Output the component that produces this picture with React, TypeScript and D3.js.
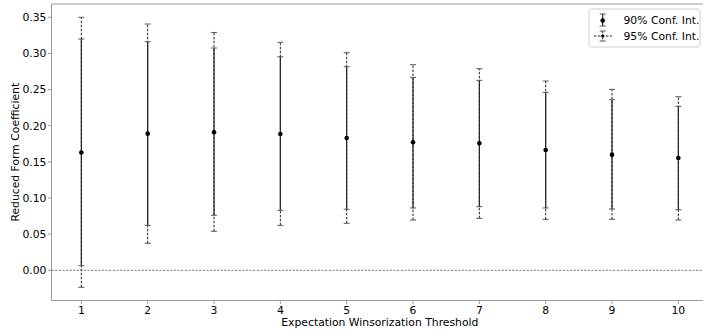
import React, { useRef, useEffect } from "react";
import * as d3 from "d3";

// values
const thresholds = [1, 2, 3, 4, 5, 6, 7, 8, 9, 10];
const estimates = [0.163, 0.189, 0.191, 0.1885, 0.183, 0.177, 0.1756, 0.1664, 0.16, 0.1553];
const ci90Low = [0.0064, 0.0622, 0.0761, 0.083, 0.0844, 0.0862, 0.088, 0.0862, 0.0848, 0.0838];
const ci90High = [0.32, 0.3162, 0.3075, 0.2954, 0.2816, 0.2669, 0.2628, 0.2462, 0.236, 0.2268];
const ci95Low = [-0.0235, 0.0373, 0.0539, 0.0622, 0.065, 0.0696, 0.0719, 0.0705, 0.0705, 0.0696];
const ci95High = [0.35, 0.3407, 0.329, 0.3154, 0.301, 0.2844, 0.2788, 0.2618, 0.2503, 0.2401];
const yTicks = [0, 0.05, 0.1, 0.15, 0.2, 0.25, 0.3, 0.35];
const legendLabels = ["90% Conf. Int.", "95% Conf. Int."];

const App = () => {
    const ref = useRef<SVGSVGElement>(null);

    useEffect(() => {
        const width = 703;
        const height = 332;
        const font = "DejaVu Sans";
        const fontSize = 10.8;
        const spine = "#9a9a9a";
        const capW = 3;

        const svg = d3.select(ref.current)
            .attr("width", width)
            .attr("height", height);
        svg.selectAll("*").remove();

        const xScale = d3.scaleLinear().domain([0.55, 10.45]).range([51.5, 708.2]);
        const yScale = d3.scaleLinear().domain([-0.0418, 0.3684]).range([300.5, 4]);

        const x0 = xScale.range()[0];
        const x1 = width;
        const yTop = yScale.range()[1];
        const yBot = yScale.range()[0];

        // zero reference line
        svg.append("line")
            .attr("x1", x0).attr("x2", x1)
            .attr("y1", yScale(0)).attr("y2", yScale(0))
            .attr("stroke", "#555").attr("stroke-width", 0.8)
            .attr("stroke-dasharray", "2.2,1.4");

        const rows = thresholds.map((t, i) => ({
            t, est: estimates[i],
            lo90: ci90Low[i], hi90: ci90High[i],
            lo95: ci95Low[i], hi95: ci95High[i],
        }));

        // 95% intervals (dashed)
        const g95 = svg.append("g").attr("stroke", "#222").attr("stroke-width", 1);
        g95.selectAll("line.bar")
            .data(rows).enter().append("line")
            .attr("x1", d => xScale(d.t)).attr("x2", d => xScale(d.t))
            .attr("y1", d => yScale(d.lo95)).attr("y2", d => yScale(d.hi95))
            .attr("stroke-dasharray", "2.5,1.5");
        [(d: any) => d.lo95, (d: any) => d.hi95].forEach(acc => {
            g95.selectAll(null)
                .data(rows).enter().append("line")
                .attr("x1", d => xScale(d.t) - capW).attr("x2", d => xScale(d.t) + capW)
                .attr("y1", d => yScale(acc(d))).attr("y2", d => yScale(acc(d)))
                .attr("stroke", "#555");
        });

        // 90% intervals (solid)
        const g90 = svg.append("g").attr("stroke", "#222").attr("stroke-width", 1.2);
        g90.selectAll("line.bar")
            .data(rows).enter().append("line")
            .attr("x1", d => xScale(d.t)).attr("x2", d => xScale(d.t))
            .attr("y1", d => yScale(d.lo90)).attr("y2", d => yScale(d.hi90));
        [(d: any) => d.lo90, (d: any) => d.hi90].forEach(acc => {
            g90.selectAll(null)
                .data(rows).enter().append("line")
                .attr("x1", d => xScale(d.t) - capW).attr("x2", d => xScale(d.t) + capW)
                .attr("y1", d => yScale(acc(d))).attr("y2", d => yScale(acc(d)))
                .attr("stroke", "#555").attr("stroke-width", 1);
        });

        // point estimates
        svg.append("g").selectAll("circle")
            .data(rows).enter().append("circle")
            .attr("cx", d => xScale(d.t)).attr("cy", d => yScale(d.est))
            .attr("r", 2.3).attr("fill", "#000");

        // spines
        svg.append("line").attr("x1", x0).attr("x2", x1).attr("y1", yTop).attr("y2", yTop)
            .attr("stroke", spine).attr("stroke-width", 1);
        svg.append("line").attr("x1", x0).attr("x2", x1).attr("y1", yBot).attr("y2", yBot)
            .attr("stroke", spine).attr("stroke-width", 1);
        svg.append("line").attr("x1", x0).attr("x2", x0).attr("y1", yTop).attr("y2", yBot)
            .attr("stroke", spine).attr("stroke-width", 1);

        // x axis ticks
        const xAxis = svg.append("g");
        xAxis.selectAll("line").data(thresholds).enter().append("line")
            .attr("x1", d => xScale(d)).attr("x2", d => xScale(d))
            .attr("y1", yBot).attr("y2", yBot + 3.5)
            .attr("stroke", spine);
        xAxis.selectAll("text").data(thresholds).enter().append("text")
            .attr("x", d => xScale(d)).attr("y", 313.5)
            .attr("text-anchor", "middle")
            .style("font-family", font).style("font-size", fontSize + "px")
            .attr("fill", "#000")
            .text(d => d);

        // y axis ticks
        const yAxis = svg.append("g");
        yAxis.selectAll("line").data(yTicks).enter().append("line")
            .attr("x1", x0 - 3.5).attr("x2", x0)
            .attr("y1", d => yScale(d)).attr("y2", d => yScale(d))
            .attr("stroke", spine);
        yAxis.selectAll("text").data(yTicks).enter().append("text")
            .attr("x", x0 - 5).attr("y", d => yScale(d))
            .attr("dy", "0.36em")
            .attr("text-anchor", "end")
            .style("font-family", font).style("font-size", fontSize + "px")
            .attr("fill", "#000")
            .text(d => d3.format(".2f")(d));

        // axis labels
        svg.append("text")
            .attr("x", (x0 + xScale.range()[1]) / 2).attr("y", 326)
            .attr("text-anchor", "middle")
            .style("font-family", font).style("font-size", fontSize + "px")
            .text("Expectation Winsorization Threshold");
        svg.append("text")
            .attr("transform", `translate(18.5, ${(yTop + yBot) / 2}) rotate(-90)`)
            .attr("text-anchor", "middle")
            .style("font-family", font).style("font-size", fontSize + "px")
            .text("Reduced Form Coefficient");

        // legend
        const legend = svg.append("g");
        legend.append("rect")
            .attr("x", 589).attr("y", 9).attr("width", 111).attr("height", 38)
            .attr("rx", 2.5)
            .attr("fill", "#fff").attr("fill-opacity", 0.8)
            .attr("stroke", "#d0d0d0").attr("stroke-width", 1);
        const hx = 602.7;
        // row 1: solid errorbar with marker
        legend.append("line").attr("x1", hx).attr("x2", hx).attr("y1", 14).attr("y2", 26)
            .attr("stroke", "#222").attr("stroke-width", 1.2);
        [14, 26].forEach(y => legend.append("line")
            .attr("x1", hx - capW).attr("x2", hx + capW).attr("y1", y).attr("y2", y)
            .attr("stroke", "#555"));
        legend.append("circle").attr("cx", hx).attr("cy", 20.5).attr("r", 2.3).attr("fill", "#000");
        // row 2: dashed errorbar with small marker
        legend.append("line").attr("x1", 594).attr("x2", 612).attr("y1", 36).attr("y2", 36)
            .attr("stroke", "#222").attr("stroke-width", 1).attr("stroke-dasharray", "2.5,1.5");
        legend.append("line").attr("x1", hx).attr("x2", hx).attr("y1", 31).attr("y2", 41)
            .attr("stroke", "#222").attr("stroke-width", 1).attr("stroke-dasharray", "2,1.2");
        [31, 41].forEach(y => legend.append("line")
            .attr("x1", hx - capW).attr("x2", hx + capW).attr("y1", y).attr("y2", y)
            .attr("stroke", "#555"));
        legend.append("circle").attr("cx", hx).attr("cy", 36).attr("r", 1.6).attr("fill", "#000");
        legendLabels.forEach((label, i) => {
            legend.append("text")
                .attr("x", 623.5).attr("y", 20.5 + i * 15.5)
                .attr("dy", "0.36em")
                .style("font-family", font).style("font-size", fontSize + "px")
                .text(label);
        });
    }, []);

    return (
        <div style={{ position: "absolute", left: 0, top: 0 }}>
            <svg ref={ref} style={{ display: "block" }}></svg>
        </div>
    );
};

export default App;
